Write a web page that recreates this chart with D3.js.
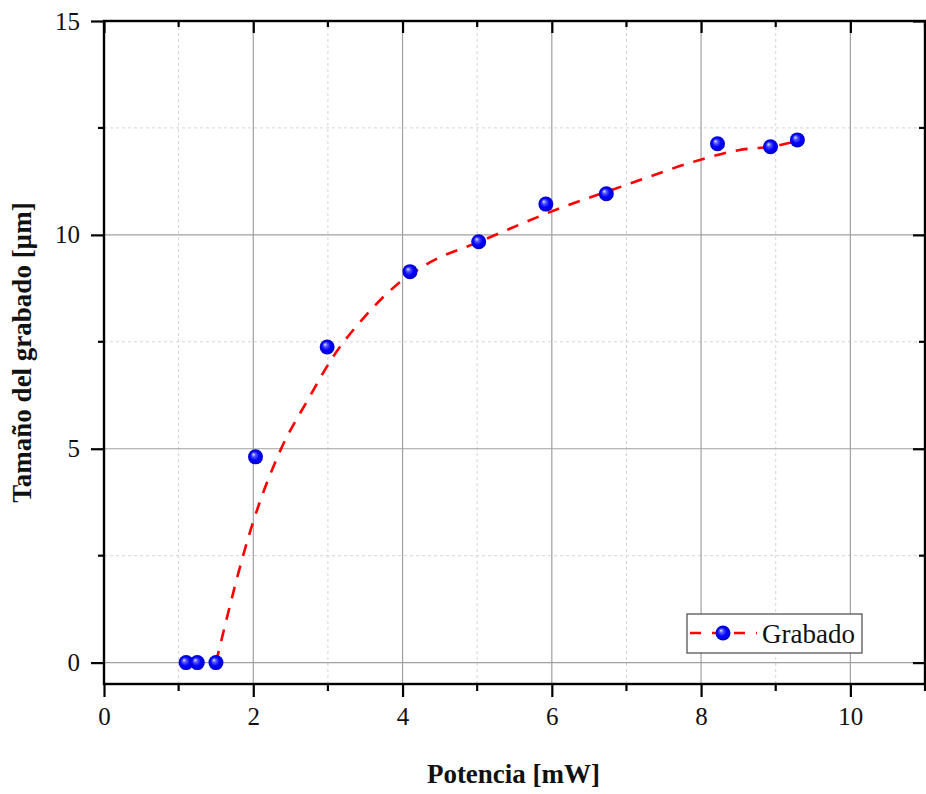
<!DOCTYPE html>
<html>
<head>
<meta charset="utf-8">
<script src="https://cdn.jsdelivr.net/npm/d3@7/dist/d3.min.js"></script>
<style>
  html, body { margin: 0; padding: 0; background: #fff; }
  svg { display: block; }
  text { font-family: "Liberation Serif", "Times New Roman", serif; }
</style>
</head>
<body>
<svg id="chart" width="926" height="794"></svg>
<script>
// ---- data ----
const potencia = [1.10, 1.25, 1.50, 2.03, 2.99, 4.10, 5.02, 5.92, 6.73, 8.22, 8.93, 9.29];
const tamano   = [0.00, 0.00, 0.00, 4.81, 7.38, 9.14, 9.84, 10.72, 10.96, 12.13, 12.06, 12.22];
// fitted (dashed) curve
const fitX = [1.50, 2.00, 2.36, 2.73, 3.07, 3.50, 3.92, 4.36, 5.03, 6.00, 7.00, 7.98, 8.50, 9.00, 9.25];
const fitY = [0.00, 3.30, 4.95, 6.14, 7.15, 8.10, 8.83, 9.35, 9.84, 10.55, 11.17, 11.75, 11.98, 12.08, 12.18];
const xMajorTicks = [0, 2, 4, 6, 8, 10];
const xMinorTicks = [1, 3, 5, 7, 9, 11];
const yMajorTicks = [0, 5, 10, 15];
const yMinorTicks = [2.5, 7.5, 12.5];
const xTitle = "Potencia [mW]";
const yTitle = "Tamaño del grabado [µm]";
const seriesName = "Grabado";

const svg = d3.select("#chart");
const L = 104, R = 925, T = 21, B = 684;
const x = d3.scaleLinear().domain([0, 11]).range([L, R]);
const y = d3.scaleLinear().domain([-0.5, 15]).range([B, T]);

// gradient for sphere markers
const defs = svg.append("defs");
const grad = defs.append("radialGradient").attr("id", "ball")
  .attr("cx", "50%").attr("cy", "50%").attr("r", "50%")
  .attr("fx", "35%").attr("fy", "32%");
grad.append("stop").attr("offset", "0%").attr("stop-color", "#e8e8ff");
grad.append("stop").attr("offset", "25%").attr("stop-color", "#5a5aff");
grad.append("stop").attr("offset", "60%").attr("stop-color", "#0000ff");
grad.append("stop").attr("offset", "100%").attr("stop-color", "#0000c8");

// grid
const grid = svg.append("g");
grid.selectAll(".gxm").data(xMinorTicks.filter(d => d < 11)).join("line")
  .attr("x1", d => x(d)).attr("x2", d => x(d)).attr("y1", T).attr("y2", B)
  .attr("stroke", "#d4d4d4").attr("stroke-width", 1).attr("stroke-dasharray", "3,3");
grid.selectAll(".gym").data(yMinorTicks).join("line")
  .attr("y1", d => y(d)).attr("y2", d => y(d)).attr("x1", L).attr("x2", R)
  .attr("stroke", "#d4d4d4").attr("stroke-width", 1).attr("stroke-dasharray", "3,3");
grid.selectAll(".gxM").data(xMajorTicks.filter(d => d > 0)).join("line")
  .attr("x1", d => x(d)).attr("x2", d => x(d)).attr("y1", T).attr("y2", B)
  .attr("stroke", "#a0a0a0").attr("stroke-width", 1.2);
grid.selectAll(".gyM").data(yMajorTicks.filter(d => d < 15)).join("line")
  .attr("y1", d => y(d)).attr("y2", d => y(d)).attr("x1", L).attr("x2", R)
  .attr("stroke", "#a0a0a0").attr("stroke-width", 1.2);

// axes
const fontTick = 25;
const bottomAxis = d3.axisBottom(x).tickValues(xMajorTicks).tickSize(13).tickPadding(10).tickFormat(d3.format("d"));
const gB = svg.append("g").attr("transform", `translate(0,${B})`).call(bottomAxis);
gB.append("g").selectAll("line").data(xMinorTicks).join("line")
  .attr("x1", d => x(d)).attr("x2", d => x(d)).attr("y1", 0).attr("y2", 7);
const leftAxis = d3.axisLeft(y).tickValues(yMajorTicks).tickSize(13).tickPadding(11).tickFormat(d3.format("d"));
const gL = svg.append("g").attr("transform", `translate(${L},0)`).call(leftAxis);
gL.append("g").selectAll("line").data(yMinorTicks).join("line")
  .attr("y1", d => y(d)).attr("y2", d => y(d)).attr("x1", 0).attr("x2", -6);
const topAxis = d3.axisTop(x).tickValues(xMajorTicks).tickSize(-12).tickFormat("");
const gT = svg.append("g").attr("transform", `translate(0,${T})`).call(topAxis);
gT.append("g").selectAll("line").data(xMinorTicks).join("line")
  .attr("x1", d => x(d)).attr("x2", d => x(d)).attr("y1", 0).attr("y2", 6);
const rightAxis = d3.axisRight(y).tickValues(yMajorTicks).tickSize(-12).tickFormat("");
const gR = svg.append("g").attr("transform", `translate(${R},0)`).call(rightAxis);
gR.append("g").selectAll("line").data(yMinorTicks).join("line")
  .attr("y1", d => y(d)).attr("y2", d => y(d)).attr("x1", 0).attr("x2", -6);

[gB, gL, gT, gR].forEach(g => {
  g.select(".domain").remove();
  g.selectAll("line").attr("stroke", "#000").attr("stroke-width", 2.2);
  g.selectAll("text").attr("font-family", "Liberation Serif, Times New Roman, serif")
    .attr("font-size", fontTick).attr("fill", "#111");
});
// frame
svg.append("rect").attr("x", L).attr("y", T).attr("width", R - L).attr("height", B - T)
  .attr("fill", "none").attr("stroke", "#000").attr("stroke-width", 2.4);

// fitted dashed curve
const fitPts = fitX.map((d, i) => [d, fitY[i]]);
const lineGen = d3.line().x(d => x(d[0])).y(d => y(d[1])).curve(d3.curveMonotoneX);
svg.append("path").datum(fitPts).attr("d", lineGen)
  .attr("fill", "none").attr("stroke", "#ff0000").attr("stroke-width", 2.6)
  .attr("stroke-dasharray", "12,10");

// points
const pts = potencia.map((d, i) => [d, tamano[i]]);
svg.append("g").selectAll("circle").data(pts).join("circle")
  .attr("cx", d => x(d[0])).attr("cy", d => y(d[1])).attr("r", 7.5)
  .attr("fill", "url(#ball)");

// legend
const lg = svg.append("g");
lg.append("rect").attr("x", 687).attr("y", 614).attr("width", 175).attr("height", 39)
  .attr("fill", "#fff").attr("stroke", "#555").attr("stroke-width", 1.3);
lg.append("line").attr("x1", 690).attr("x2", 757).attr("y1", 633).attr("y2", 633)
  .attr("stroke", "#ff0000").attr("stroke-width", 2.6).attr("stroke-dasharray", "11,11");
lg.append("circle").attr("cx", 723).attr("cy", 633).attr("r", 7.5).attr("fill", "url(#ball)");
lg.append("text").attr("x", 762).attr("y", 643).attr("font-size", 27).attr("fill", "#111")
  .text(seriesName);

// titles
svg.append("text").attr("x", (L + R) / 2 - 1).attr("y", 783).attr("text-anchor", "middle")
  .attr("font-weight", "bold").attr("font-size", 27).attr("fill", "#111").text(xTitle);
svg.append("text").attr("transform", `translate(31,${(T + B) / 2}) rotate(-90)`)
  .attr("text-anchor", "middle").attr("font-weight", "bold").attr("font-size", 27)
  .attr("fill", "#111").text(yTitle);
</script>
</body>
</html>
